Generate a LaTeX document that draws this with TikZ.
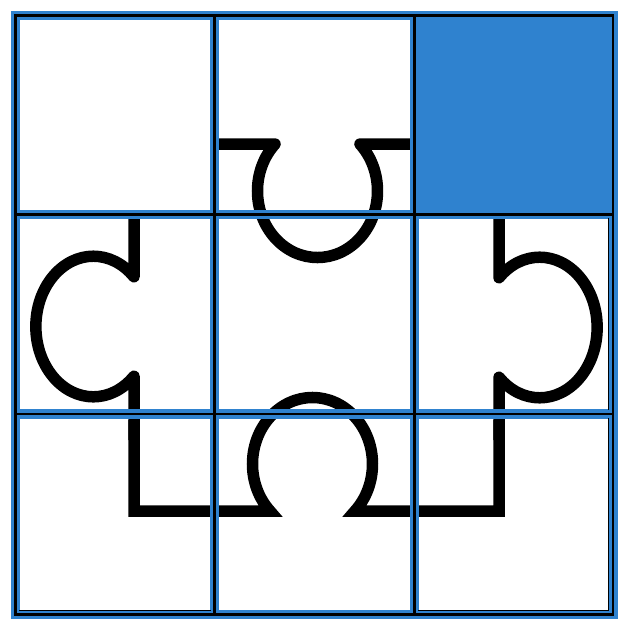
\documentclass[tikz,border=0pt]{standalone}
\definecolor{tileblue}{RGB}{47,130,207}
\begin{document}
\begin{tikzpicture}[x=1pt,y=-1pt,
  piece/.style={line width=11.5pt, draw=black, line cap=butt},
  band/.style={line width=9.3pt, draw=tileblue},
  edge/.style={line width=2.7pt, draw=black},
  hair/.style={line width=1pt, draw=black}]
\useasboundingbox (0,0) rectangle (630,630);
% puzzle piece outline
\draw[piece, line join=round] (214.7,144) -- (275.07,144)
  arc[start angle=-135, end angle=-405, x radius=60, y radius=66.5] -- (414.3,144);
\draw[piece, line join=round] (134,214.4) -- (134,276.8)
  arc[start angle=-45, end angle=-315, x radius=57.5, y radius=70.3] -- (134,440);
\draw[piece, line join=miter] (134,420) -- (134,511) -- (270.07,511)
  arc[start angle=135, end angle=405, x radius=60, y radius=66.5] -- (499,511) -- (499,420);
\draw[piece, line join=round] (499,440) -- (499,377.2)
  arc[start angle=135, end angle=-135, x radius=57.5, y radius=70.3] -- (499,214.4);
% empty slot
\fill[tileblue] (414.3,15.8) rectangle (613,214.4);
% tile borders
\draw[band] (15.8,15.8) rectangle (613,614.5);
\draw[band] (214.7,15.8) -- (214.7,614.5);
\draw[band] (414.3,15.8) -- (414.3,614.5);
\draw[band] (15.8,214.4) -- (613,214.4);
\draw[band] (15.8,414) -- (613,414);
\draw[edge] (15.8,15.8) rectangle (613,614.5);
\draw[edge] (214.7,15.8) -- (214.7,614.5);
\draw[edge] (414.3,15.8) -- (414.3,614.5);
\draw[edge] (15.8,214.4) -- (613,214.4);
\draw[edge] (15.8,414) -- (613,414);
% thin inner lines
\draw[hair] (19,610.5) -- (211,610.5);
\draw[hair] (418,610.5) -- (608.5,610.5) -- (608.5,418);
\draw[hair] (608.8,218) -- (608.8,410);
\end{tikzpicture}
\end{document}
